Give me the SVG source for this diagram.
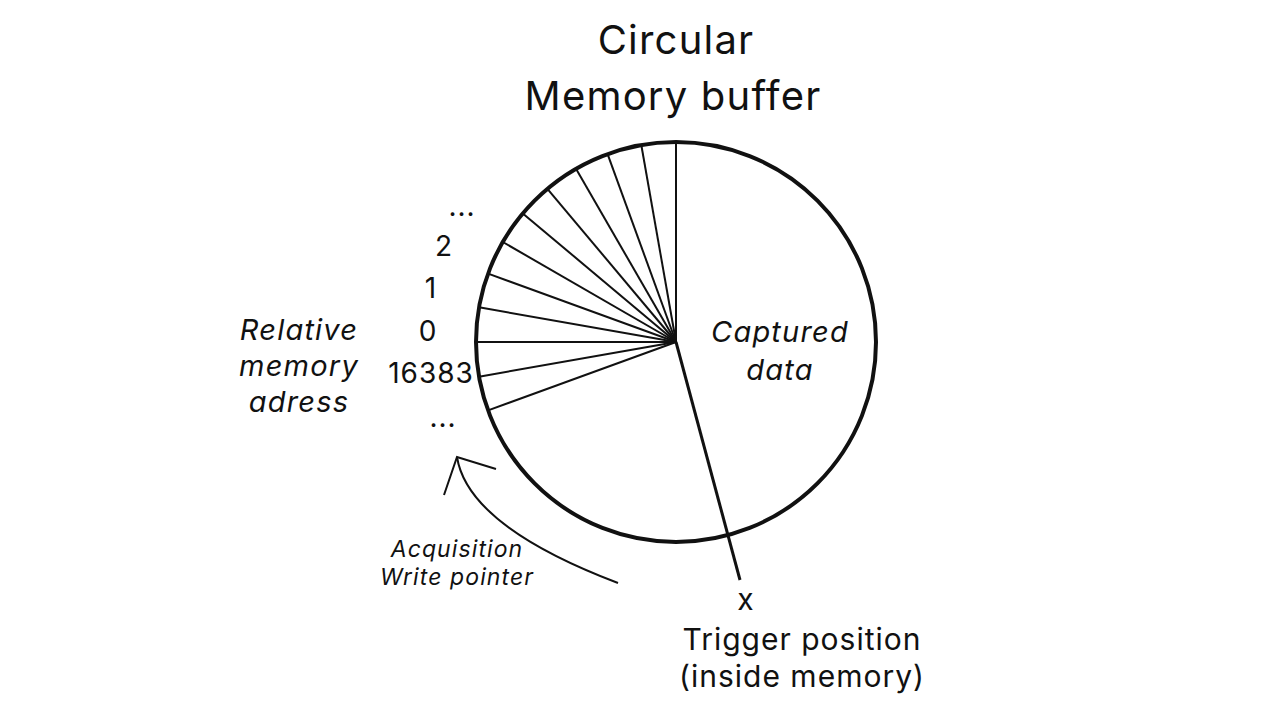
<svg xmlns="http://www.w3.org/2000/svg" width="1280" height="720" viewBox="0 0 1280 720">
  <style>
    text { font-family: Inter, "Noto Sans", "DejaVu Sans", sans-serif; fill: #111; }
    .title { font-size: 40px; letter-spacing: 1.2px; }
    .num { font-size: 28px; letter-spacing: 1px; }
    .it { font-style: italic; font-size: 29px; letter-spacing: 1.2px; }
    .small { font-style: italic; font-size: 23px; letter-spacing: 1.1px; }
    .lbl { font-size: 30px; letter-spacing: 1px; }
    .spoke { stroke: #111; stroke-width: 2; }
  </style>
  <rect width="1280" height="720" fill="#fff"/>
  <g id="title">
    <text class="title" x="676" y="54" text-anchor="middle">Circular</text>
    <text class="title" x="673" y="110" text-anchor="middle">Memory buffer</text>
  </g>
  <g id="buffer">
    <g id="spokes" class="spoke">
      <line x1="676" y1="342" x2="676.0" y2="142.0"/>
      <line x1="676" y1="342" x2="641.3" y2="145.0"/>
      <line x1="676" y1="342" x2="607.6" y2="154.1"/>
      <line x1="676" y1="342" x2="576.0" y2="168.8"/>
      <line x1="676" y1="342" x2="547.4" y2="188.8"/>
      <line x1="676" y1="342" x2="522.8" y2="213.4"/>
      <line x1="676" y1="342" x2="502.8" y2="242.0"/>
      <line x1="676" y1="342" x2="488.1" y2="273.6"/>
      <line x1="676" y1="342" x2="479.0" y2="307.3"/>
      <line x1="676" y1="342" x2="476.0" y2="342.0"/>
      <line x1="676" y1="342" x2="479.0" y2="376.7"/>
      <line x1="676" y1="342" x2="488.1" y2="410.4"/>
    </g>
    <circle cx="676" cy="342" r="200" fill="none" stroke="#111" stroke-width="4"/>
    <text class="it" x="780" y="342" text-anchor="middle">Captured</text>
    <text class="it" x="780" y="380" text-anchor="middle">data</text>
  </g>
  <g id="connectors">
    <line id="trigger-line" x1="676" y1="342" x2="740" y2="580" stroke="#111" stroke-width="3"/>
    <path id="write-arrow" d="M 618 583 Q 468 526 457 457" fill="none" stroke="#111" stroke-width="2"/>
    <path d="M 444 495 L 457 457 L 496 469" fill="none" stroke="#111" stroke-width="2"/>
  </g>
  <g id="addresses">
    <text class="num" x="462" y="216" text-anchor="middle">...</text>
    <text class="num" x="444" y="256" text-anchor="middle">2</text>
    <text class="num" x="431" y="298" text-anchor="middle">1</text>
    <text class="num" x="428" y="341" text-anchor="middle">0</text>
    <text class="num" x="431" y="383" text-anchor="middle">16383</text>
    <text class="num" x="443" y="427" text-anchor="middle">...</text>
  </g>
  <g id="relative-label">
    <text class="it" x="299" y="340" text-anchor="middle">Relative</text>
    <text class="it" x="299" y="376" text-anchor="middle">memory</text>
    <text class="it" x="299" y="412" text-anchor="middle">adress</text>
  </g>
  <g id="write-pointer-label">
    <text class="small" x="457" y="557" text-anchor="middle">Acquisition</text>
    <text class="small" x="457" y="585" text-anchor="middle">Write pointer</text>
  </g>
  <g id="trigger">
    <text class="lbl" x="746" y="610" text-anchor="middle">x</text>
    <text class="lbl" x="802" y="650" text-anchor="middle">Trigger position</text>
    <text class="lbl" x="802" y="687" text-anchor="middle">(inside memory)</text>
  </g>
</svg>
